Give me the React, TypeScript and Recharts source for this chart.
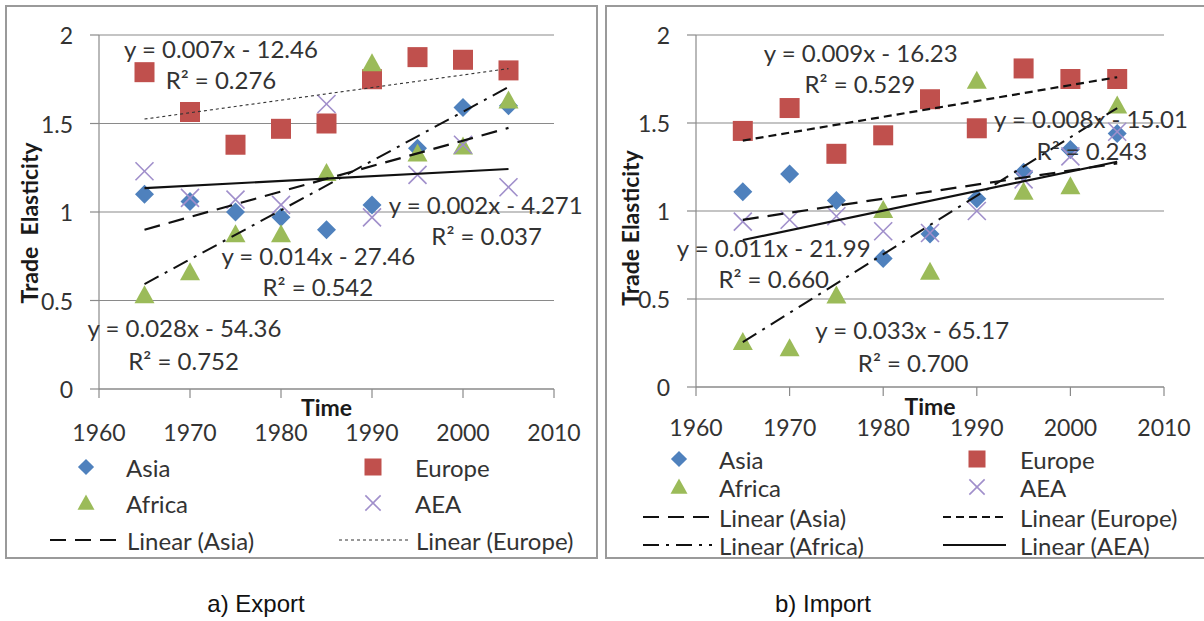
import React from 'react';
import { ScatterChart, Scatter, XAxis, YAxis, CartesianGrid, ReferenceDot } from 'recharts';

// ---------- data ----------
const years = [1965, 1970, 1975, 1980, 1985, 1990, 1995, 2000, 2005];
const xTicks = [1960, 1970, 1980, 1990, 2000, 2010];
const yTicks = [0, 0.5, 1, 1.5, 2];

const exportAsia = [1.1, 1.06, 1.0, 0.97, 0.9, 1.04, 1.36, 1.59, 1.6];
const exportEurope = [1.79, 1.565, 1.38, 1.47, 1.5, 1.75, 1.875, 1.86, 1.8];
const exportAfrica = [0.53, 0.66, 0.875, 0.875, 1.22, 1.84, 1.33, 1.37, 1.63];
const exportAEA = [1.23, 1.08, 1.07, 1.04, 1.61, 0.97, 1.21, 1.38, 1.14];

const importAsia = [1.11, 1.21, 1.06, 0.73, 0.87, 1.07, 1.22, 1.35, 1.44];
const importEurope = [1.455, 1.585, 1.325, 1.43, 1.635, 1.47, 1.81, 1.75, 1.75];
const importAfrica = [0.255, 0.22, 0.52, 1.005, 0.655, 1.74, 1.11, 1.14, 1.6];
const importAEA = [0.94, 0.95, 0.97, 0.885, 0.875, 1.0, 1.18, 1.31, 1.45];

const trendYears = [1965, 2005];
const exportTrendAsia = [0.9, 1.475];
const exportTrendEurope = [1.525, 1.81];
const exportTrendAfrica = [0.593, 1.706];
const exportTrendAEA = [1.135, 1.243];
const importTrendAsia = [0.95, 1.27];
const importTrendEurope = [1.4, 1.76];
const importTrendAfrica = [0.255, 1.585];
const importTrendAEA = [0.835, 1.28];

const exportEquations = [
  { text: 'y = 0.007x - 12.46', x: 1973.4, y: 1.926 },
  { text: 'R² = 0.276', x: 1973.4, y: 1.75 },
  { text: 'y = 0.002x - 4.271', x: 2002.5, y: 1.04 },
  { text: 'R² = 0.037', x: 2002.6, y: 0.867 },
  { text: 'y = 0.014x - 27.46', x: 1984.1, y: 0.754 },
  { text: 'R² = 0.542', x: 1984.05, y: 0.578 },
  { text: 'y = 0.028x - 54.36', x: 1969.4, y: 0.346 },
  { text: 'R² = 0.752', x: 1969.3, y: 0.159 },
];
const importEquations = [
  { text: 'y = 0.009x - 16.23', x: 1977.6, y: 1.903 },
  { text: 'R² = 0.529', x: 1977.5, y: 1.727 },
  { text: 'y = 0.008x - 15.01', x: 2002.2, y: 1.528 },
  { text: 'R² = 0.243', x: 2002.3, y: 1.341 },
  { text: 'y = 0.011x - 21.99', x: 1968.3, y: 0.79 },
  { text: 'R² = 0.660', x: 1968.3, y: 0.619 },
  { text: 'y = 0.033x - 65.17', x: 1983.1, y: 0.324 },
  { text: 'R² = 0.700', x: 1983.2, y: 0.142 },
];

// ---------- styles ----------
const FONT = 'Lato, "Open Sans", sans-serif';
const TEXT = '#333333';
const GRID = '#8a8a8a';
const COLORS: Record<string, string> = {
  Asia: '#4F81BD',
  Europe: '#C0504D',
  Africa: '#9BBB59',
  AEA: '#A08FCB',
};

const toPoints = (xs: number[], ys: number[]) => xs.map((x, i) => ({ x, y: ys[i] }));

function Marker({ kind, cx, cy, s = 1 }: { kind: string; cx: number; cy: number; s?: number }) {
  if (kind === 'Asia') {
    const h = 9.5 * s;
    return <polygon points={`${cx},${cy - h} ${cx + h},${cy} ${cx},${cy + h} ${cx - h},${cy}`} fill={COLORS.Asia} />;
  }
  if (kind === 'Europe') {
    const h = 10 * s;
    return <rect x={cx - h} y={cy - h} width={2 * h} height={2 * h} fill={COLORS.Europe} />;
  }
  if (kind === 'Africa') {
    const w = 10 * s;
    return <polygon points={`${cx},${cy - 10 * s} ${cx + w},${cy + 8 * s} ${cx - w},${cy + 8 * s}`} fill={COLORS.Africa} />;
  }
  const h = 9 * s;
  return (
    <g stroke={COLORS.AEA} strokeWidth={1.6}>
      <line x1={cx - h} y1={cy - h} x2={cx + h} y2={cy + h} />
      <line x1={cx - h} y1={cy + h} x2={cx + h} y2={cy - h} />
    </g>
  );
}

const DASH_LONG = '16 9';
const DASH_DOT = '16 7 3 7';

type SeriesDef = { name: string; values: number[]; trend: number[]; dash?: string; width: number; color: string };

type PanelProps = {
  left: number;
  width: number;
  height: number;
  margin: { top: number; right: number; bottom: number; left: number };
  series: SeriesDef[];
  equations: { text: string; x: number; y: number }[];
  yLabel: string;
  yLabelX: number;
  yLabelY: number;
  tickLabelOffset: number;
  timeOffset: number;
};

function Panel(p: PanelProps) {
  const XTick = (props: any) => (
    <text x={props.x} y={props.y + p.tickLabelOffset} textAnchor="middle" dominantBaseline="central"
      fontFamily={FONT} fontSize={23} fill={TEXT}>{props.payload.value}</text>
  );
  const YTick = (props: any) => (
    <text x={props.x} y={props.y} textAnchor="end" dominantBaseline="central"
      fontFamily={FONT} fontSize={23} fill={TEXT}>{props.payload.value}</text>
  );
  const timeLabel = (props: any) => {
    const vb = props.viewBox;
    return (
      <text x={vb.x + vb.width / 2} y={vb.y + p.timeOffset} textAnchor="middle" dominantBaseline="central"
        fontFamily={FONT} fontSize={23} fontWeight={700} fill="#1a1a1a">Time</text>
    );
  };
  const yLabelContent = () => (
    <text x={p.yLabelX} y={p.yLabelY} transform={`rotate(-90 ${p.yLabelX} ${p.yLabelY})`} textAnchor="middle"
      dominantBaseline="central" fontFamily={FONT} fontSize={23} fontWeight={700} fill="#1a1a1a"
      style={{ whiteSpace: 'pre' }}>{p.yLabel}</text>
  );
  return (
    <div style={{ position: 'absolute', left: p.left, top: 0, width: p.width, height: p.height }}>
      <ScatterChart width={p.width} height={p.height} margin={p.margin}>
        <CartesianGrid horizontal vertical={false} stroke={GRID} strokeWidth={1.2} />
        <XAxis type="number" dataKey="x" domain={[1960, 2010]} ticks={xTicks} allowDataOverflow
          tick={XTick} tickSize={9} tickMargin={0} height={60} stroke={GRID} strokeWidth={1.2}
          label={{ value: 'Time', content: timeLabel }} />
        <YAxis type="number" dataKey="y" domain={[0, 2]} ticks={yTicks} allowDataOverflow
          tick={YTick} tickSize={9} tickMargin={17} width={60} stroke={GRID} strokeWidth={1.2}
          label={{ value: p.yLabel, content: yLabelContent }} />
        {p.series.map((s) => (
          <Scatter key={s.name} name={s.name} data={toPoints(years, s.values)} isAnimationActive={false}
            fill={COLORS[s.name]} shape={(props: any) => <Marker kind={s.name} cx={props.cx} cy={props.cy} />} />
        ))}
        {p.series.map((s) => (
          <Scatter key={'trend-' + s.name} name={'Linear (' + s.name + ')'} data={toPoints(trendYears, s.trend)}
            isAnimationActive={false} fill={s.color} legendType="none"
            line={{ stroke: s.color, strokeWidth: s.width, strokeDasharray: s.dash }}
            shape={() => <g />} />
        ))}
        {p.equations.map((e, i) => (
          <ReferenceDot key={i} x={e.x} y={e.y} r={0} ifOverflow="visible"
            shape={(props: any) => (
              <text x={props.cx} y={props.cy} textAnchor="middle" dominantBaseline="central"
                fontFamily={FONT} fontSize={24} fill={TEXT}>{e.text}</text>
            )} />
        ))}
      </ScatterChart>
    </div>
  );
}

type LegendItem = { kind: 'marker' | 'line'; name: string; label: string; x: number; y: number; x2?: number; tx: number; dash?: string; width?: number; color?: string };

function LegendLayer({ items }: { items: LegendItem[] }) {
  return (
    <svg width={1204} height={621} style={{ position: 'absolute', left: 0, top: 0, pointerEvents: 'none' }}>
      {items.map((it, i) => (
        <g key={i}>
          {it.kind === 'marker' ? (
            <Marker kind={it.name} cx={it.x} cy={it.y} s={0.85} />
          ) : (
            <line x1={it.x} y1={it.y} x2={it.x2} y2={it.y} stroke={it.color} strokeWidth={it.width}
              strokeDasharray={it.dash} />
          )}
          <text x={it.tx} y={it.y} dominantBaseline="central" fontFamily={FONT} fontSize={24} fill={TEXT}>{it.label}</text>
        </g>
      ))}
    </svg>
  );
}

const exportSeries: SeriesDef[] = [
  { name: 'Asia', values: exportAsia, trend: exportTrendAsia, dash: DASH_LONG, width: 2.2, color: '#111' },
  { name: 'Europe', values: exportEurope, trend: exportTrendEurope, dash: '3 3', width: 1.1, color: '#333' },
  { name: 'Africa', values: exportAfrica, trend: exportTrendAfrica, dash: DASH_DOT, width: 2, color: '#111' },
  { name: 'AEA', values: exportAEA, trend: exportTrendAEA, width: 2.2, color: '#111' },
];
const importSeries: SeriesDef[] = [
  { name: 'Asia', values: importAsia, trend: importTrendAsia, dash: DASH_LONG, width: 2.2, color: '#111' },
  { name: 'Europe', values: importEurope, trend: importTrendEurope, dash: '8 5', width: 2.2, color: '#111' },
  { name: 'Africa', values: importAfrica, trend: importTrendAfrica, dash: DASH_DOT, width: 2, color: '#111' },
  { name: 'AEA', values: importAEA, trend: importTrendAEA, width: 2.2, color: '#111' },
];

const exportLegend: LegendItem[] = [
  { kind: 'marker', name: 'Asia', label: 'Asia', x: 86, y: 467, tx: 126 },
  { kind: 'marker', name: 'Europe', label: 'Europe', x: 373, y: 467, tx: 415 },
  { kind: 'marker', name: 'Africa', label: 'Africa', x: 86, y: 503, tx: 126 },
  { kind: 'marker', name: 'AEA', label: 'AEA', x: 373, y: 503, tx: 415 },
  { kind: 'line', name: 'Asia', label: 'Linear (Asia)', x: 50, x2: 120, y: 540, tx: 127, dash: DASH_LONG, width: 2.2, color: '#111' },
  { kind: 'line', name: 'Europe', label: 'Linear (Europe)', x: 339, x2: 408, y: 540, tx: 416, dash: '3 3', width: 1.1, color: '#333' },
];
const importLegend: LegendItem[] = [
  { kind: 'marker', name: 'Asia', label: 'Asia', x: 679, y: 459, tx: 719 },
  { kind: 'marker', name: 'Europe', label: 'Europe', x: 977, y: 459, tx: 1020 },
  { kind: 'marker', name: 'Africa', label: 'Africa', x: 679, y: 487, tx: 719 },
  { kind: 'marker', name: 'AEA', label: 'AEA', x: 977, y: 487, tx: 1020 },
  { kind: 'line', name: 'Asia', label: 'Linear (Asia)', x: 643, x2: 712, y: 517, tx: 719, dash: DASH_LONG, width: 2.2, color: '#111' },
  { kind: 'line', name: 'Europe', label: 'Linear (Europe)', x: 943, x2: 1006, y: 517, tx: 1020, dash: '8 5', width: 2.2, color: '#111' },
  { kind: 'line', name: 'Africa', label: 'Linear (Africa)', x: 643, x2: 712, y: 545, tx: 719, dash: DASH_DOT, width: 2, color: '#111' },
  { kind: 'line', name: 'AEA', label: 'Linear (AEA)', x: 943, x2: 1006, y: 545, tx: 1020, width: 2.2, color: '#111' },
];

export default function App() {
  return (
    <div style={{ position: 'fixed', left: 0, top: 0, width: 1204, height: 621, overflow: 'hidden', background: '#fff' }}>
      <div style={{ position: 'absolute', left: 5, top: 5, width: 593, height: 554, border: '2px solid #9a9a9a', boxSizing: 'border-box' }} />
      <div style={{ position: 'absolute', left: 605, top: 5, width: 620, height: 554, border: '2px solid #9a9a9a', boxSizing: 'border-box' }} />
      <Panel left={0} width={600} height={560}
        margin={{ top: 35, right: 46, bottom: 111, left: 39 }}
        series={exportSeries} equations={exportEquations}
        yLabel="Trade  Elasticity" yLabelX={29} yLabelY={223}
        tickLabelOffset={34} timeOffset={18} />
      <Panel left={600} width={604} height={560}
        margin={{ top: 35, right: 40, bottom: 113, left: 36 }}
        series={importSeries} equations={importEquations}
        yLabel="Trade Elasticity" yLabelX={30} yLabelY={228}
        tickLabelOffset={31} timeOffset={19} />
      <LegendLayer items={exportLegend} />
      <LegendLayer items={importLegend} />
      <div style={{ position: 'absolute', left: 256, top: 604, transform: 'translate(-50%, -50%)', fontFamily: '"Liberation Sans", Arial, sans-serif', fontSize: 24, color: '#111', whiteSpace: 'nowrap' }}>a) Export</div>
      <div style={{ position: 'absolute', left: 823, top: 604, transform: 'translate(-50%, -50%)', fontFamily: '"Liberation Sans", Arial, sans-serif', fontSize: 24, color: '#111', whiteSpace: 'nowrap' }}>b) Import</div>
    </div>
  );
}
